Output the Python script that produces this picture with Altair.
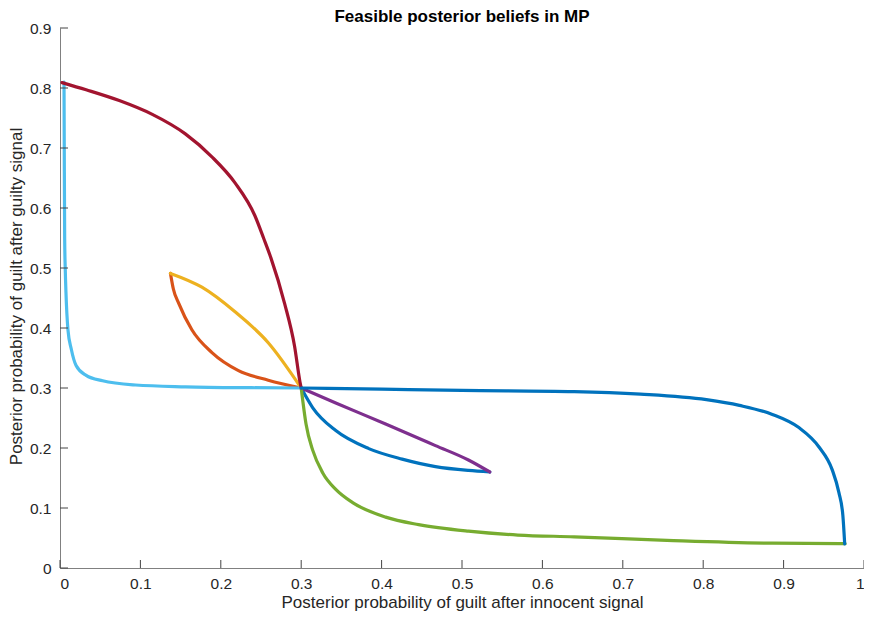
import altair as alt
import pandas as pd

# ---- data ----
blue1_x = [0.300, 0.3144, 0.343, 0.384, 0.4255, 0.467, 0.508, 0.5346]
blue1_y = [0.300, 0.267, 0.229, 0.199, 0.1815, 0.169, 0.1626, 0.160]
orange_x = [0.1374, 0.141, 0.1477, 0.164, 0.189, 0.222, 0.259, 0.300]
orange_y = [0.491, 0.465, 0.441, 0.397, 0.359, 0.329, 0.313, 0.300]
yellow_x = [0.1374, 0.1765, 0.2177, 0.259, 0.300]
yellow_y = [0.491, 0.468, 0.427, 0.3755, 0.300]
purple_x = [0.300, 0.343, 0.405, 0.467, 0.508, 0.5346]
purple_y = [0.300, 0.275, 0.240, 0.204, 0.180, 0.160]
green_x = [0.300, 0.306, 0.3144, 0.327, 0.343, 0.364, 0.405, 0.446, 0.508,
           0.5695, 0.6395, 0.763, 0.886, 0.9765]
green_y = [0.300, 0.240, 0.196, 0.158, 0.131, 0.109, 0.0848, 0.0723, 0.0614,
           0.0549, 0.052, 0.0457, 0.0413, 0.0405]
lblue_x = [0.0050, 0.0053, 0.0058, 0.0065, 0.0074, 0.0099, 0.014, 0.020,
           0.0325, 0.053, 0.094, 0.156, 0.238, 0.300]
lblue_y = [0.810, 0.700, 0.549, 0.500, 0.460, 0.397, 0.365, 0.3375,
           0.321, 0.312, 0.305, 0.302, 0.3005, 0.300]
dred_x = [0.0025, 0.0325, 0.0737, 0.1148, 0.1559, 0.1889, 0.2177, 0.2423,
          0.2533, 0.2623, 0.2794, 0.2917, 0.2985, 0.300]
dred_y = [0.809, 0.797, 0.779, 0.756, 0.7235, 0.6853, 0.6419, 0.5875,
          0.5495, 0.5169, 0.4407, 0.3701, 0.310, 0.300]
blue2_x = [0.300, 0.400, 0.500, 0.6395, 0.722, 0.804, 0.845, 0.886, 0.919,
           0.944, 0.9605, 0.9688, 0.9737, 0.976]
blue2_y = [0.300, 0.298, 0.296, 0.294, 0.2897, 0.2805, 0.271, 0.256, 0.234,
           0.2017, 0.1635, 0.1256, 0.0876, 0.040]

x_ticks = [0, 0.1, 0.2, 0.3, 0.4, 0.5, 0.6, 0.7, 0.8, 0.9, 1.0]
y_ticks = [0, 0.1, 0.2, 0.3, 0.4, 0.5, 0.6, 0.7, 0.8, 0.9]

series = [
    ("s1", blue1_x, blue1_y, "#0072BD"),
    ("s2", orange_x, orange_y, "#D95319"),
    ("s3", yellow_x, yellow_y, "#EDB120"),
    ("s4", purple_x, purple_y, "#7E2F8E"),
    ("s5", green_x, green_y, "#77AC30"),
    ("s6", lblue_x, lblue_y, "#4DBEEE"),
    ("s7", dred_x, dred_y, "#A2142F"),
    ("s8", blue2_x, blue2_y, "#0072BD"),
]

W, H = 804, 540
FONT = "Liberation Sans"

rows = []
for k, (name, xs, ys, col) in enumerate(series):
    for j, (a, b) in enumerate(zip(xs, ys)):
        rows.append({"s": name, "x": a, "y": b, "i": j})
df = pd.DataFrame(rows)

xscale = alt.Scale(domain=[0, 1], nice=False, zero=False)
yscale = alt.Scale(domain=[0, 0.9], nice=False, zero=False)

x_axis = alt.Axis(values=x_ticks, format="~g", ticks=False, labelPadding=8, grid=False,
                  title="Posterior probability of guilt after innocent signal",
                  titleBaseline="alphabetic", titleY=39, titleFontWeight="normal")
y_axis = alt.Axis(values=y_ticks, format="~g", ticks=False, labelPadding=9, grid=False,
                  title="Posterior probability of guilt after guilty signal",
                  titleBaseline="alphabetic", titleX=-39, titleY=268,
                  titleAngle=270, titleFontWeight="normal")

lines = alt.Chart(df).mark_line(strokeWidth=3.2, interpolate="monotone",
                                strokeCap="round", strokeJoin="round").encode(
    x=alt.X("x:Q", scale=xscale, axis=x_axis),
    y=alt.Y("y:Q", scale=yscale, axis=y_axis),
    color=alt.Color("s:N", scale=alt.Scale(domain=[s[0] for s in series],
                                           range=[s[3] for s in series]), legend=None),
    detail="s:N",
    order="i:Q",
)

xt_df = pd.DataFrame({"x": x_ticks})
yt_df = pd.DataFrame({"y": y_ticks})
xtick_layer = alt.Chart(xt_df).mark_rule(color="#444444", strokeWidth=1).encode(
    x=alt.X("x:Q", scale=xscale, axis=x_axis),
    y=alt.value(H), y2=alt.value(H - 8))
ytick_layer = alt.Chart(yt_df).mark_rule(color="#444444", strokeWidth=1).encode(
    y=alt.Y("y:Q", scale=yscale, axis=y_axis),
    x=alt.value(0), x2=alt.value(8))

chart = alt.layer(lines, xtick_layer, ytick_layer).properties(
    width=W, height=H,
    title=alt.TitleParams("Feasible posterior beliefs in MP", font=FONT, fontSize=17,
                          fontWeight="bold", color="#000000", anchor="middle",
                          frame="group", offset=-5),
    autosize=alt.AutoSizeParams(type="none"),
    padding={"left": 52, "top": 20, "right": 0, "bottom": 44},
    background="white",
).configure_view(strokeWidth=0).configure_axis(
    labelFont=FONT, labelFontSize=15.5, labelColor="#262626",
    titleFont=FONT, titleFontSize=17, titleColor="#262626",
    domainColor="#808080", domainWidth=1,
)

chart.save("out.html", embed_options={"renderer": "svg", "actions": False})
